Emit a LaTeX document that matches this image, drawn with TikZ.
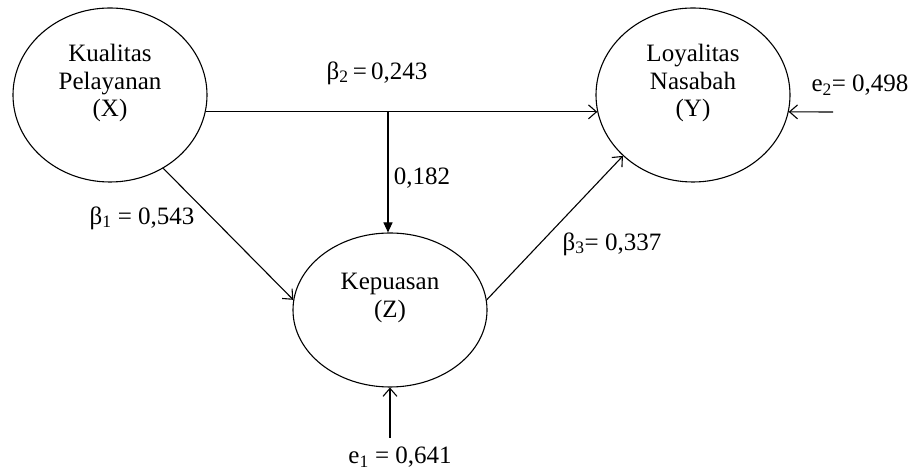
\documentclass[tikz,border=0pt]{standalone}
\usepackage{fontspec}
\setmainfont{Liberation Serif}
\usetikzlibrary{arrows.meta,shapes.geometric}
\begin{document}
\begin{tikzpicture}[x=1pt, y=1pt,
        latent/.style={draw, ellipse, line width=1.1pt, inner sep=0pt, minimum width=194pt},
        caption/.style={align=center, font=\fontsize{25}{27.5}\selectfont, inner sep=0pt},
        coef/.style={font=\fontsize{25}{27.5}\selectfont, inner sep=0pt},
        arrow/.style={-{Straight Barb[length=8pt, width=14pt]}, line width=1.1pt},
        moder/.style={-{Triangle[length=10pt, width=9pt]}, line width=1.1pt}
        ]
        \useasboundingbox (0,0) rectangle (921,470);
        \node[latent, minimum height=174pt] (X) at (110,375) {};
        \node[latent, minimum height=174pt] (Y) at (693,375) {};
        \node[latent, minimum height=154pt] (Z) at (390,160) {};
        \node[caption] (Xtext) at (110,387) {Kualitas\\Pelayanan\\(X)};
        \node[caption] (Ytext) at (693,387) {Loyalitas\\Nasabah\\(Y)};
        \node[caption] (Ztext) at (390,172) {Kepuasan\\(Z)};
        
        \coordinate (split) at (388,358);
        \coordinate (e1) at (390,32);
        \coordinate (e2) at (833,358);
        
        \draw[arrow] (X.-10) -- (Y.190);
        \draw[moder] (split) -- (split |- Z.north);
        \draw[arrow] (X.-54) -- (Z.174);
        \draw[arrow] (Z.6) -- (Y.221);
        \draw[arrow] (e1) -- (Z.south);
        \draw[arrow] (e2) -- (Y.-10);
        
        \node[coef] (b2) at (377,397) {β\textsubscript{2}\,=\,0,243};
        \node[coef] (mod) at (422,292) {0,182};
        \node[coef] (b1) at (142,252) {β\textsubscript{1} = 0,543};
        \node[coef] (b3) at (612,226) {β\textsubscript{3}= 0,337};
        \node[coef] (e2text) at (860,385) {e\textsubscript{2}= 0,498};
        \node[coef] (e1text) at (400,13) {e\textsubscript{1} = 0,641};
    \end{tikzpicture}
\end{document}
